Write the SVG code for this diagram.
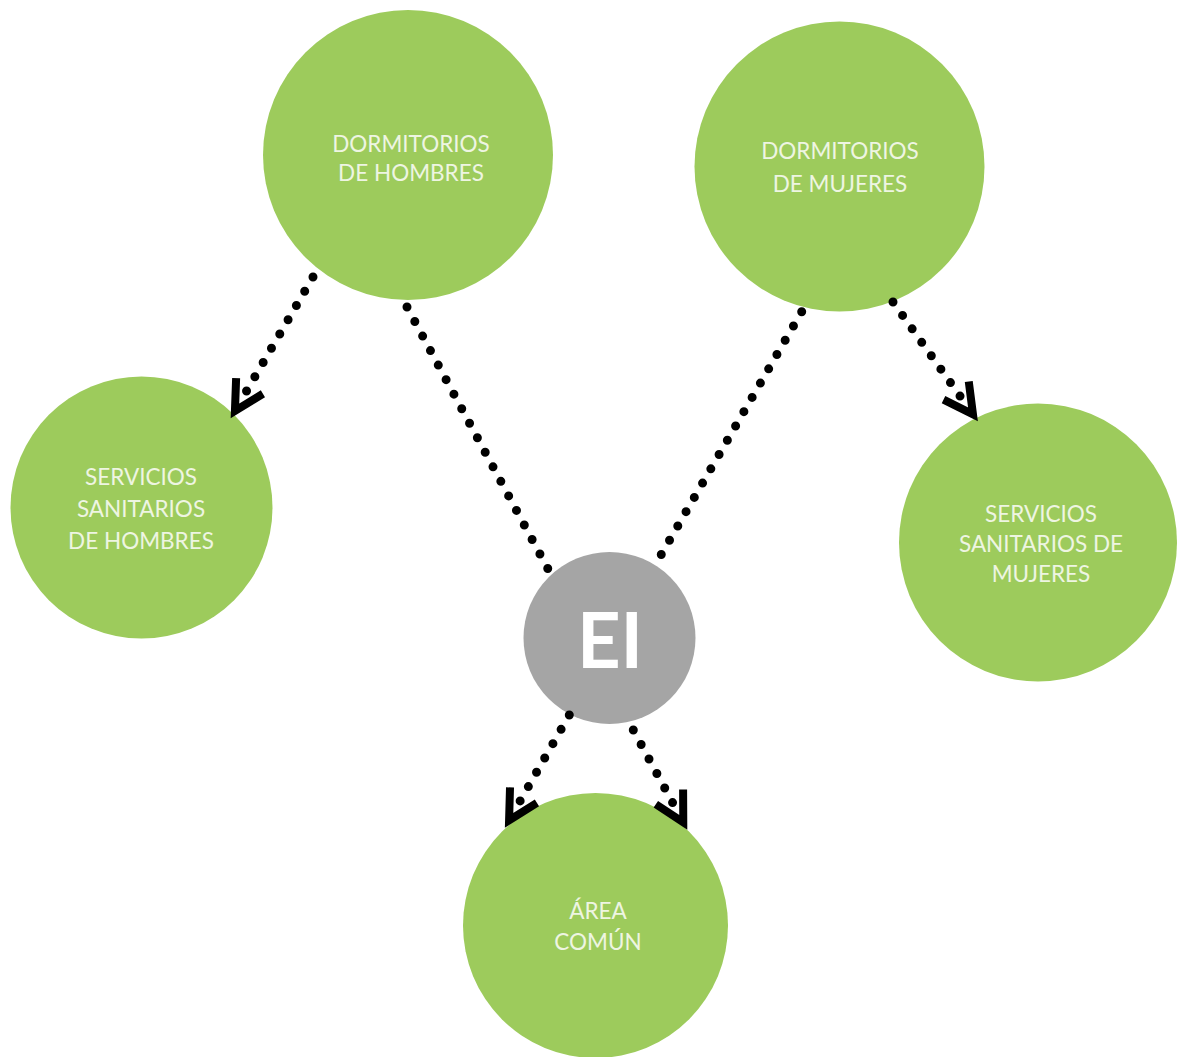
<svg xmlns="http://www.w3.org/2000/svg" width="1184" height="1057" viewBox="0 0 1184 1057">
<defs>
<style>
.node{fill:#9dcb5c}
.hub{fill:#a5a5a5}
.lbl{font-family:Lato,"Open Sans","Liberation Sans",sans-serif;font-size:22.5px;fill:#eef5e2;text-anchor:middle}
.hubl{font-family:Lato,"Liberation Sans",sans-serif;font-weight:700;font-size:76px;fill:#ffffff;text-anchor:middle}
.dots{fill:none;stroke:#000;stroke-width:9;stroke-linecap:round;stroke-dasharray:0 16.5}
.arrow{marker-end:url(#chev)}
</style>
<marker id="chev" markerUnits="userSpaceOnUse" orient="auto" viewBox="-45 -25 60 50" markerWidth="60" markerHeight="50" refX="-22" refY="0" overflow="visible">
<path d="M-29,-15.5 L0,0 L-29,15.5" fill="none" stroke="#000" stroke-width="8" stroke-linejoin="miter" stroke-linecap="butt" stroke-dasharray="none"/>
</marker>
</defs>
<rect width="1184" height="1057" fill="#ffffff"/>
<g id="dormitorios-hombres">
<circle class="node" cx="408" cy="155" r="145"/>
<text class="lbl" x="411" y="152">DORMITORIOS</text>
<text class="lbl" x="411" y="181">DE HOMBRES</text>
</g>
<g id="dormitorios-mujeres">
<circle class="node" cx="839.5" cy="166.5" r="145"/>
<text class="lbl" x="840" y="159">DORMITORIOS</text>
<text class="lbl" x="840" y="192">DE MUJERES</text>
</g>
<g id="servicios-hombres">
<circle class="node" cx="141.5" cy="507.5" r="131"/>
<text class="lbl" x="141" y="485">SERVICIOS</text>
<text class="lbl" x="141" y="517">SANITARIOS</text>
<text class="lbl" x="141" y="549">DE HOMBRES</text>
</g>
<g id="servicios-mujeres">
<circle class="node" cx="1038" cy="542.5" r="139"/>
<text class="lbl" x="1041" y="522">SERVICIOS</text>
<text class="lbl" x="1041" y="552">SANITARIOS DE</text>
<text class="lbl" x="1041" y="582">MUJERES</text>
</g>
<g id="area-comun">
<circle class="node" cx="595.5" cy="925.5" r="132.5"/>
<text class="lbl" x="598" y="919">ÁREA</text>
<text class="lbl" x="598" y="950">COMÚN</text>
</g>
<g id="ei">
<circle class="hub" cx="609.5" cy="638" r="86"/>
<text class="hubl" x="610" y="668">EI</text>
</g>
<g id="connectors">
<path class="dots arrow" d="M313,277 L246,392"/>
<path class="dots" d="M407,307 L548,569"/>
<path class="dots" d="M801.7,311.7 L661.1,554.8"/>
<path class="dots arrow" d="M893,302 L960.2,396.3"/>
<path class="dots arrow" d="M569.3,715 L520,801.2"/>
<path class="dots arrow" d="M633.3,730 L672.8,803"/>
</g>
</svg>
